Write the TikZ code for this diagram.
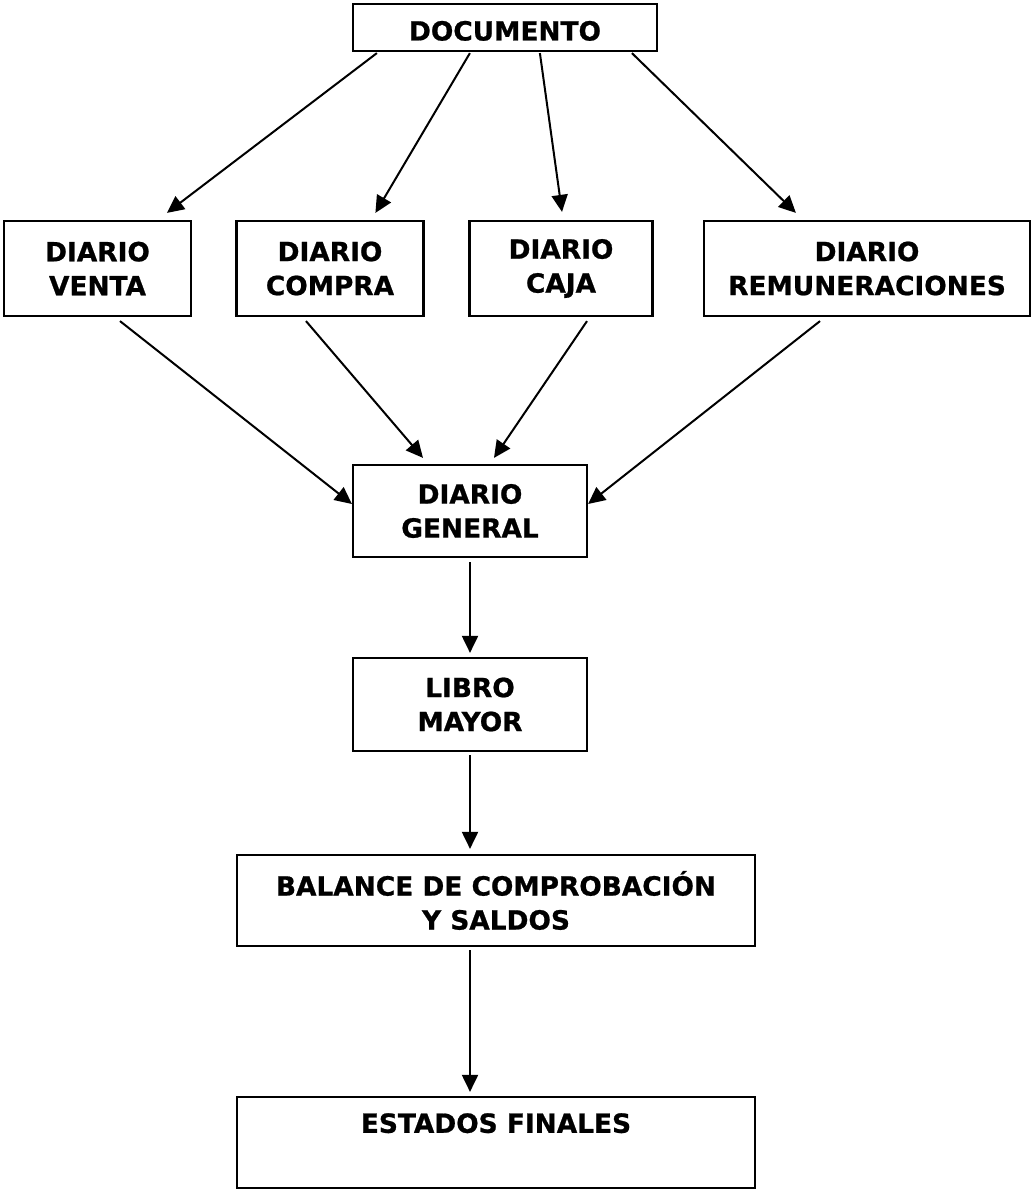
\documentclass[tikz,border=0pt]{standalone}
\usepackage{fontspec}
\setmainfont{DejaVu Sans}[BoldFeatures={FakeBold=0.8}]
\usetikzlibrary{arrows.meta}
\newlength{\du}
\setlength{\du}{0.5pt}

\tikzset{
  bloque/.style={draw, line width=1.1pt, align=center, inner sep=0pt,
    font=\fontsize{13.2}{17}\selectfont\bfseries},
  flecha/.style={line width=1pt, -{Triangle[length=8.5pt,width=8pt]}}
}

\begin{document}
\begin{tikzpicture}
\useasboundingbox (0\du,0\du) rectangle (1032\du,-1192\du);
% cajas
\node[bloque, minimum width=304\du, minimum height=47\du, text height=13pt, text depth=0pt] (doc) at (505\du,-27.5\du) {DOCUMENTO};
\node[bloque, minimum width=187\du, minimum height=95\du] (venta) at (97.5\du,-268.5\du) {DIARIO\\VENTA};
\node[bloque, minimum width=187\du, minimum height=95\du] (compra) at (330\du,-268.5\du) {DIARIO\\COMPRA};
\node[bloque, minimum width=183\du, minimum height=95\du] (caja) at (561\du,-268.5\du) {DIARIO\\CAJA};
\node[bloque, minimum width=326\du, minimum height=95\du] (remun) at (867\du,-268.5\du) {DIARIO\\REMUNERACIONES};
\node[bloque, minimum width=234\du, minimum height=92\du] (general) at (470\du,-511\du) {DIARIO\\GENERAL};
\node[bloque, minimum width=234\du, minimum height=93\du] (mayor) at (470\du,-704.5\du) {LIBRO\\MAYOR};
\node[bloque, minimum width=518\du, minimum height=91\du] (balance) at (496\du,-900.5\du) {BALANCE DE COMPROBACIÓN\\Y SALDOS};
\node[bloque, minimum width=518\du, minimum height=91\du, text depth=19.5pt] (finales) at (496\du,-1142.5\du) {ESTADOS FINALES};
% flechas
\draw[flecha] ([xshift=25\du,yshift=-1\du]doc.south west) -- ([xshift=164\du,yshift=7\du]venta.north west);
\draw[flecha] ([xshift=118\du,yshift=-1\du]doc.south west) -- ([xshift=140\du,yshift=7\du]compra.north west);
\draw[flecha] ([xshift=188\du,yshift=-1\du]doc.south west) -- ([xshift=1\du,yshift=8\du]caja.north);
\draw[flecha] ([xshift=280\du,yshift=-1\du]doc.south west) -- ([xshift=93\du,yshift=7\du]remun.north west);
\draw[flecha] ([xshift=22.5\du,yshift=-4\du]venta.south) -- ([yshift=7\du]general.west);
\draw[flecha] ([xshift=-24\du,yshift=-4\du]compra.south) -- ([xshift=-47\du,yshift=6\du]general.north);
\draw[flecha] ([xshift=26\du,yshift=-4\du]caja.south) -- ([xshift=24\du,yshift=6\du]general.north);
\draw[flecha] ([xshift=-47\du,yshift=-4\du]remun.south) -- ([yshift=7\du]general.east);
\draw[flecha] ([yshift=-4\du]general.south) -- ([yshift=4\du]mayor.north);
\draw[flecha] ([yshift=-3\du]mayor.south) -- ([xshift=-26\du,yshift=5\du]balance.north);
\draw[flecha] ([xshift=-26\du,yshift=-3\du]balance.south) -- ([xshift=-26\du,yshift=4\du]finales.north);
\end{tikzpicture}
\end{document}
